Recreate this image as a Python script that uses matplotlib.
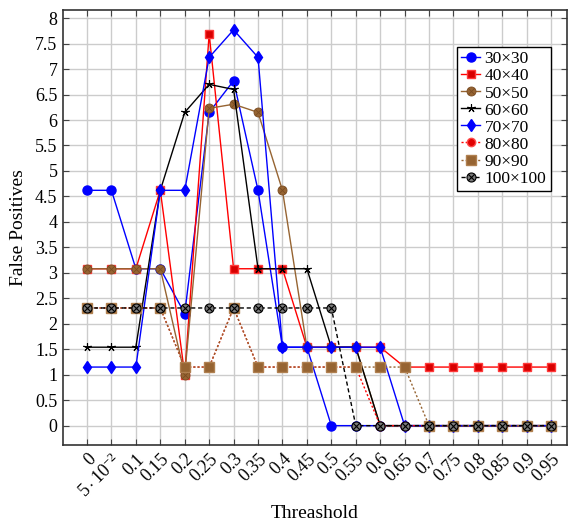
import matplotlib
matplotlib.use("Agg")
import matplotlib.pyplot as plt
from matplotlib.path import Path

plt.rcParams['font.family'] = ['Liberation Serif', 'DejaVu Serif']
plt.rcParams['mathtext.fontset'] = 'custom'
plt.rcParams['mathtext.rm'] = 'Liberation Serif'
plt.rcParams['mathtext.it'] = 'Liberation Serif:italic'

# Thresholds and their tick labels
thresholds = [0, 0.05, 0.1, 0.15, 0.2, 0.25, 0.3, 0.35, 0.4, 0.45,
              0.5, 0.55, 0.6, 0.65, 0.7, 0.75, 0.8, 0.85, 0.9, 0.95]
tick_labels = ['0', r'$5\cdot10^{-2}$', '0.1', '0.15', '0.2', '0.25', '0.3',
               '0.35', '0.4', '0.45', '0.5', '0.55', '0.6', '0.65', '0.7',
               '0.75', '0.8', '0.85', '0.9', '0.95']
y_ticks = [0, 0.5, 1, 1.5, 2, 2.5, 3, 3.5, 4, 4.5, 5, 5.5, 6, 6.5, 7, 7.5, 8]
y_tick_labels = ['0', '0.5', '1', '1.5', '2', '2.5', '3', '3.5', '4', '4.5',
                 '5', '5.5', '6', '6.5', '7', '7.5', '8']

# False positives per window size
fp_30 = [4.62, 4.62, 3.08, 3.08, 2.2, 6.15, 6.77, 4.62, 1.54, 1.54,
         0, 0, 0, 0, 0, 0, 0, 0, 0, 0]
fp_40 = [3.08, 3.08, 3.08, 4.62, 1.0, 7.69, 3.08, 3.08, 3.08, 1.54,
         1.54, 1.54, 1.54, 1.15, 1.15, 1.15, 1.15, 1.15, 1.15, 1.15]
fp_50 = [3.08, 3.08, 3.08, 3.08, 1.0, 6.23, 6.31, 6.15, 4.62, 1.54,
         1.54, 1.54, 0, 0, 0, 0, 0, 0, 0, 0]
fp_60 = [1.54, 1.54, 1.54, 4.62, 6.15, 6.7, 6.6, 3.08, 3.08, 3.08,
         1.54, 1.54, 0, 0, 0, 0, 0, 0, 0, 0]
fp_70 = [1.15, 1.15, 1.15, 4.62, 4.62, 7.23, 7.77, 7.23, 1.54, 1.54,
         1.54, 1.54, 1.54, 0, 0, 0, 0, 0, 0, 0]
fp_80 = [2.31, 2.31, 2.31, 2.31, 1.15, 1.15, 2.31, 1.15, 1.15, 1.15,
         1.15, 1.15, 0, 0, 0, 0, 0, 0, 0, 0]
fp_90 = [2.31, 2.31, 2.31, 2.31, 1.15, 1.15, 2.31, 1.15, 1.15, 1.15,
         1.15, 1.15, 1.15, 1.15, 0, 0, 0, 0, 0, 0]
fp_100 = [2.31, 2.31, 2.31, 2.31, 2.31, 2.31, 2.31, 2.31, 2.31, 2.31,
          2.31, 0, 0, 0, 0, 0, 0, 0, 0, 0]

series_names = ['30×30', '40×40', '50×50', '60×60', '70×70', '80×80', '90×90', '100×100']

# circle with a cross inside (otimes)
cross = Path([(-0.7, -0.7), (0.7, 0.7), (-0.7, 0.7), (0.7, -0.7)],
             [Path.MOVETO, Path.LINETO, Path.MOVETO, Path.LINETO])
otimes = Path.make_compound_path(Path.unit_circle(), cross)

BLUE = '#0000ff'
RED = '#ff0000'
BROWN = '#966432'

styles = [
    dict(color=BLUE, ls='-', marker='o', ms=6.5, mfc=BLUE, mec=BLUE),
    dict(color=RED, ls='-', marker='s', ms=6, mfc='#d80000', mec='#ff3a3a'),
    dict(color=BROWN, ls='-', marker=otimes, ms=6.5, mfc=BROWN, mec='#7a4c22', mew=0.6),
    dict(color='black', ls='-', marker=(5, 2, 0), ms=6, mec='black', mew=0.8),
    dict(color=BLUE, ls='-', marker='d', ms=6.5, mfc=BLUE, mec=BLUE),
    dict(color=RED, ls=(0, (1.5, 1.5)), marker='o', ms=6, mfc='#e00000', mec='#ff4a4a'),
    dict(color=BROWN, ls=(0, (1.5, 1.5)), marker='s', ms=6.5, mfc=BROWN, mec='#b08050'),
    dict(color='black', ls=(0, (3, 2)), marker=otimes, ms=6.5, mfc='#7a7a7a', mec='black', mew=0.8),
]
data = [fp_30, fp_40, fp_50, fp_60, fp_70, fp_80, fp_90, fp_100]

fig = plt.figure(figsize=(5.68, 5.26), dpi=100)
ax = fig.add_axes([0.111, 0.154, 0.887, 0.827])

for name, vals, st in zip(series_names, data, styles):
    ax.plot(thresholds, vals, lw=1.0, label=name, **st)

ax.set_xlim(-0.049, 0.982)
ax.set_ylim(-0.38, 8.16)
ax.set_xticks(thresholds)
ax.set_xticklabels(tick_labels, rotation=45, ha='right', va='top',
                   rotation_mode='anchor', fontsize=13)
ax.set_yticks(y_ticks)
ax.set_yticklabels(y_tick_labels, fontsize=13)
ax.grid(True, color='#cccccc', lw=1.0)
ax.set_axisbelow(True)
ax.tick_params(direction='in', length=4, width=0.8, color='#444444',
               top=True, right=True, pad=4)
for sp in ax.spines.values():
    sp.set_color('#333333')
    sp.set_linewidth(1.2)

ax.set_xlabel('Threashold', fontsize=14, labelpad=3)
ax.set_ylabel('False Positives', fontsize=14, labelpad=6)

leg = ax.legend(loc='upper right', bbox_to_anchor=(0.968, 0.915),
                borderaxespad=0, fontsize=12.5, frameon=True, fancybox=False,
                edgecolor='black', framealpha=1, handlelength=1.1,
                handletextpad=0.25, labelspacing=0.05, borderpad=0.25)
leg.get_frame().set_linewidth(1.0)

fig.savefig('out.png', dpi=100)
